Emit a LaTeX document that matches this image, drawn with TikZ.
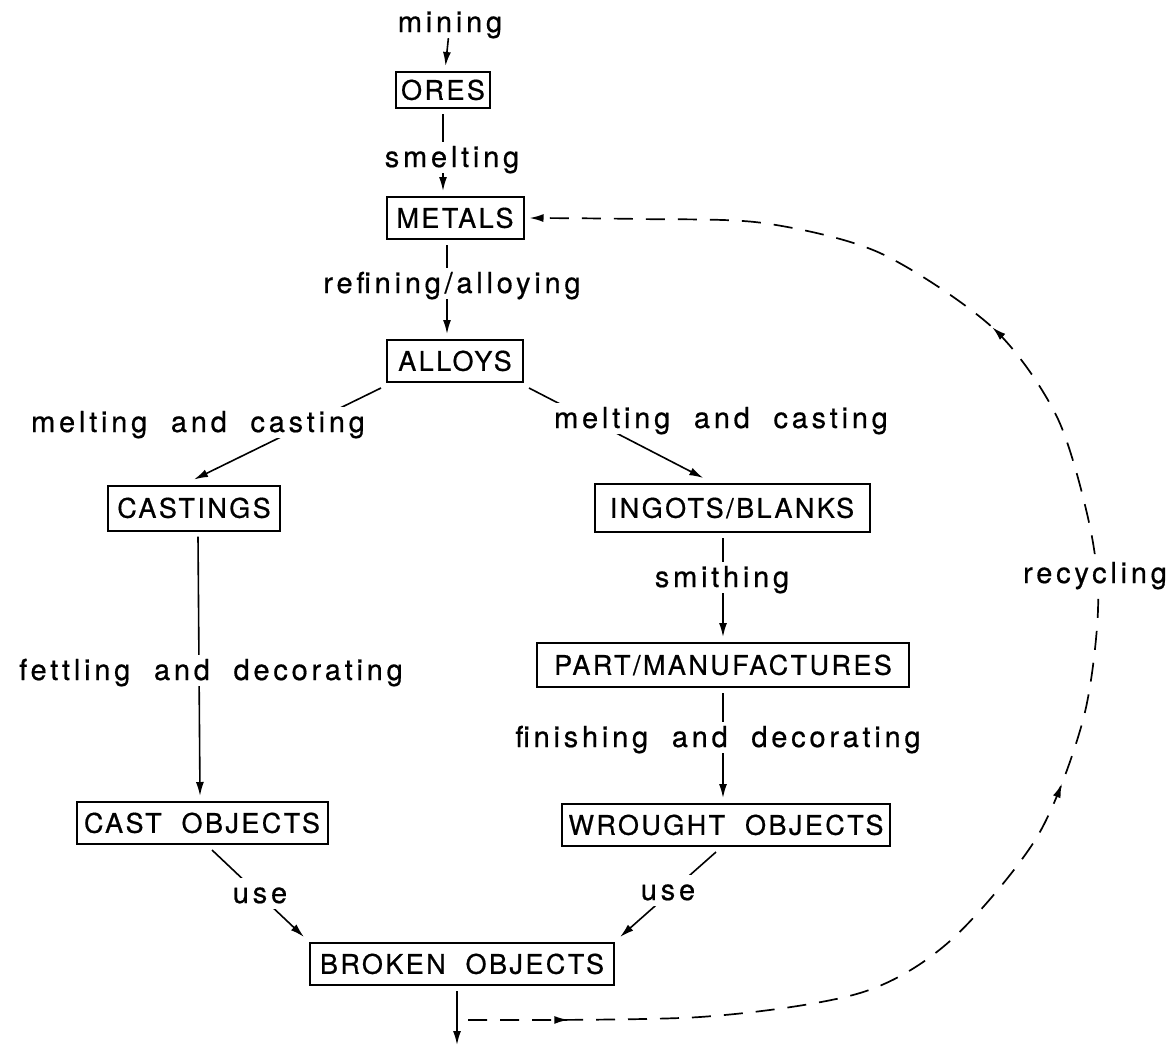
\documentclass[tikz,border=0pt]{standalone}
\usepackage{fontspec}
\setmainfont{TeX Gyre Heros}
\newfontfamily\boxfont[LetterSpace=9,WordSpace=2,FakeBold=0.6]{TeX Gyre Heros}
\newfontfamily\labfont[LetterSpace=13,WordSpace=2,FakeBold=0.6]{TeX Gyre Heros}
\usetikzlibrary{arrows.meta, calc, decorations.markings}

\begin{document}
\begin{tikzpicture}[x=1pt, y=-1pt,
	box/.style={draw, line width=2pt, font=\boxfont\fontsize{27}{30}\selectfont, inner sep=3pt, text height=19.5pt, text depth=0pt, minimum height=42pt, outer sep=6pt},
	lab/.style={font=\labfont\fontsize{29}{33}\selectfont, fill=white, inner xsep=2pt, inner ysep=4pt, text height=21pt, text depth=2pt, anchor=base},
	>={Latex[length=14pt, width=8pt]},
	conn/.style={->, line width=1.6pt},
	recycle/.style={->, line width=1.7pt, dash pattern=on 19pt off 13pt}]
				\useasboundingbox (0,0) rectangle (1175,1047);
				% cajas
				\node [lab] (mining) at (450,32) {mining};
				\node [box, minimum width=94pt, minimum height=36pt] (ores) at (443,90) {ORES};
				\node [box, minimum width=137pt] (metals) at (455,218) {METALS};
				\node [box, minimum width=136pt] (alloys) at (455,361) {ALLOYS};
				\node [box, minimum width=172pt, minimum height=45pt] (castings) at (194,508) {CASTINGS};
				\node [box, minimum width=275pt, minimum height=48pt] (ingots) at (732,508) {INGOTS/BLANKS};
				\node [box, minimum width=372pt, minimum height=44pt] (part) at (723,665) {PART/MANUFACTURES};
				\node [box, minimum width=328pt] (wrought) at (726,825) {WROUGHT OBJECTS};
				\node [box, minimum width=251pt] (castobj) at (202,823) {CAST OBJECTS};
				\node [box, minimum width=304pt] (broken) at (462,964) {BROKEN OBJECTS};
				\coordinate (exit) at (457,1045);
				\coordinate (rstart) at (468,1020);
				
				% flechas
				\path [conn]
				(mining) edge (ores)
				(ores) edge (ores |- metals.north)
				([xshift=-8pt]metals.south) edge ([xshift=-8pt]alloys.north)
				(alloys.south west) edge (castings.north)
				(alloys.south east) edge ($(ingots.north west)!0.4!(ingots.north east)$)
				([xshift=4pt]castings.south) edge ([xshift=-2pt]castobj.north)
				(ingots.south -| part) edge (part)
				(part) edge (part |- wrought.north)
				([xshift=10pt]castobj.south) edge (broken.north west)
				([xshift=-10pt]wrought.south) edge (broken.north east)
				(broken.south -| exit) edge (exit);
				
				% reciclado
				\draw [recycle, postaction={decorate}, decoration={markings,
					mark=at position 0.06 with {\arrow{>}},
					mark=at position 0.415 with {\arrow{>}},
					mark=at position 0.707 with {\arrow{>}}}]
				plot [smooth] coordinates {(rstart) (700,1017) (860,993) (950,941) (1037,837) (1083,720) (1098,610) (1090,527) (1057,417) (993,328) (880,253) (763,223) (640,219) (metals.east)};
				
				% etiquetas
				\node [lab] (smelting) at (452,167) {smelting};
				\node [lab] (refining) at (452,293) {refining/alloying};
				\node [lab] (meltL) at (198,432) {melting and casting};
				\node [lab] (meltR) at (721,428) {melting and casting};
				\node [lab] (smithing) at (722,587) {smithing};
				\node [lab] (fettling) at (211,680) {fettling and decorating};
				\node [lab] (finishing) at (718,747) {finishing and decorating};
				\node [lab] (useL) at (260,903) {use};
				\node [lab] (useR) at (668,900) {use};
				\node [lab] (recycling) at (1095,583) {recycling};
\end{tikzpicture}
\end{document}
